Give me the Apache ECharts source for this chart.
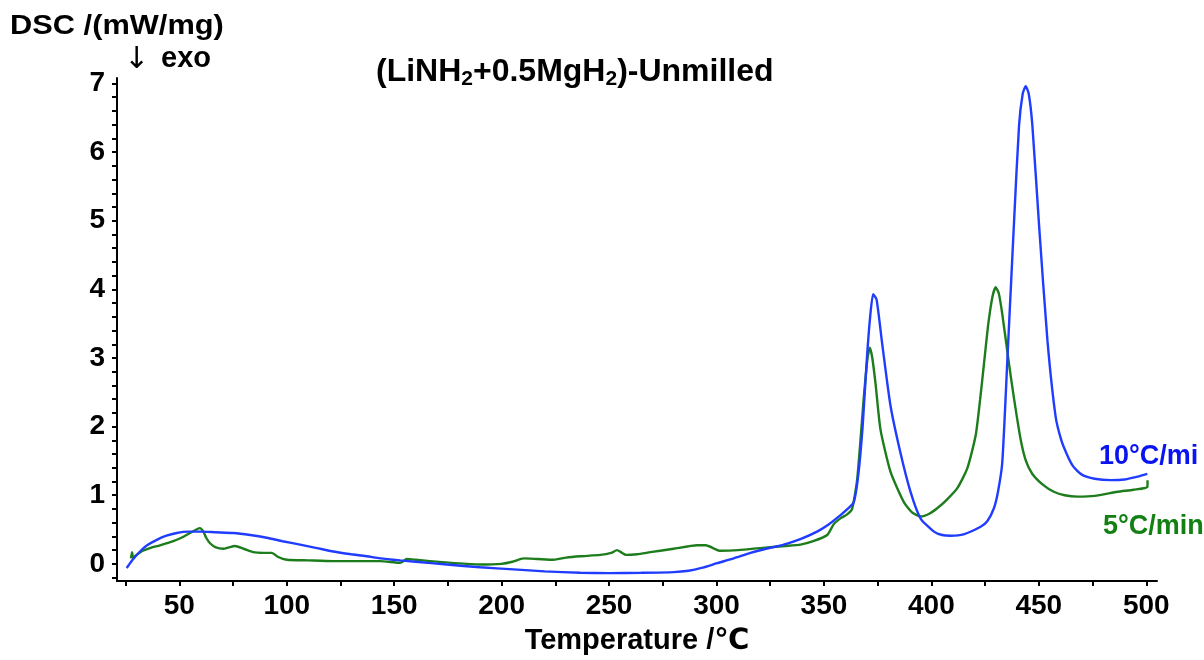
<!DOCTYPE html>
<html>
<head>
<meta charset="utf-8">
<script src="https://cdn.jsdelivr.net/npm/echarts@6/dist/echarts.min.js"></script>
<style>
html,body{margin:0;padding:0;background:#fff;}
#chart{width:1204px;height:660px;}
</style>
</head>
<body>
<div id="chart"></div>
<script>
// ---- Data ----
const seriesNames = ['10°C/min', '5°C/min'];

// 10 °C/min heating rate: [Temperature (°C), DSC (mW/mg)]
const dsc10 = [
  [25.5,-0.06],[28,0.05],[31.7,0.18],[35,0.27],[39.5,0.35],[44,0.41],[48.8,0.45],[54,0.47],
  [59.6,0.47],[67,0.46],[75.1,0.45],[83,0.42],[90.7,0.38],[98,0.33],[106.2,0.28],[114,0.23],
  [121.7,0.18],[130,0.14],[137.3,0.11],[143.5,0.08],[152.8,0.05],[160,0.03],[174.5,-0.01],
  [190,-0.05],[205.5,-0.08],[220,-0.11],[236.6,-0.13],[250,-0.135],[265,-0.13],[280,-0.12],
  [287,-0.1],[293,-0.06],[300.3,0.01],[308,0.08],[315.8,0.16],[323,0.22],[331.3,0.28],
  [339,0.36],[346.8,0.47],[352,0.57],[357.7,0.71],[361,0.8],[363.9,0.9],[366,1.3],[368,2.0],
  [370,3.0],[371.5,3.6],[372.9,3.93],[374.5,3.85],[377.1,3.21],[381,2.3],[385.6,1.62],
  [390.3,1.05],[395,0.66],[401.2,0.47],[405,0.42],[409,0.41],[415,0.43],[422.9,0.54],
  [426,0.62],[429.1,0.81],[431,1.05],[433,1.48],[435.4,3.0],[438.4,4.94],[440.8,6.39],
  [442.5,6.85],[443.9,6.96],[445.3,6.85],[447,6.39],[450.1,4.94],[454,3.26],[457.8,2.15],
  [460.5,1.8],[463.3,1.58],[466,1.42],[470,1.3],[476,1.24],[483.5,1.22],[490,1.23],
  [496,1.27],[500.5,1.31]
];

// 5 °C/min heating rate: [Temperature (°C), DSC (mW/mg)]
const dsc5 = [
  [27.5,0.08],[28,0.17],[28.5,0.09],[30.1,0.13],[33,0.19],[36.3,0.23],[41,0.27],[47.2,0.33],
  [51,0.38],[55,0.45],[58,0.5],[59.6,0.52],[61.2,0.47],[62.5,0.38],[64.3,0.3],[67,0.24],
  [70.5,0.22],[73,0.24],[75.9,0.26],[80,0.22],[84.4,0.17],[89,0.16],[93,0.16],[96,0.1],
  [100,0.06],[110,0.05],[121.7,0.04],[137.3,0.04],[143.5,0.04],[152.8,0.015],[155.9,0.07],
  [160,0.06],[166.7,0.04],[178,0.01],[190,-0.01],[200,0.0],[205,0.03],[210.2,0.08],
  [217,0.07],[224.2,0.06],[230,0.09],[236.6,0.11],[245.9,0.13],[251,0.16],[253.7,0.2],
  [255.5,0.17],[258,0.13],[263,0.14],[269.2,0.17],[280,0.22],[291,0.27],[295,0.27],
  [301.8,0.19],[310,0.2],[323.6,0.24],[332,0.26],[339.1,0.28],[345,0.33],[351.5,0.42],
  [354.6,0.58],[358,0.67],[360.8,0.72],[363.1,0.8],[365.5,1.24],[368.6,2.44],[370.3,3.0],
  [371.4,3.15],[372.5,3.0],[374,2.63],[376.3,1.96],[381,1.34],[387.2,0.9],[391,0.75],
  [395,0.69],[399,0.73],[402.7,0.81],[407,0.93],[412,1.1],[416.7,1.39],[420.6,1.87],
  [422.7,2.4],[424.5,2.92],[426.5,3.5],[428.4,3.89],[429.9,4.03],[431.3,3.95],[433,3.64],
  [436.1,2.92],[438.5,2.4],[441.5,1.82],[444,1.5],[447,1.31],[452,1.15],[457,1.05],
  [462,1.0],[468,0.98],[476,0.99],[486.6,1.05],[494,1.08],[500.5,1.12],[500.6,1.22]
];

// Tick labels / tick positions
const xTickLabels = [50,100,150,200,250,300,350,400,450,500];
const xTicks = [25,50,75,100,125,150,175,200,225,250,275,300,325,350,375,400,425,450,475,500];
const yTickLabels = [0,1,2,3,4,5,6,7];
const yTicks = [-0.2,0,0.2,0.4,0.6,0.8,1,1.2,1.4,1.6,1.8,2,2.2,2.4,2.6,2.8,3,3.2,3.4,3.6,3.8,4,
  4.2,4.4,4.6,4.8,5,5.2,5.4,5.6,5.8,6,6.2,6.4,6.6,6.8,7];

const yName = 'DSC /(mW/mg)';
const xName = 'Temperature /℃';

// ---- Chart ----
const FONT = '"Liberation Sans", Arial, "DejaVu Sans", sans-serif';
const chart = echarts.init(document.getElementById('chart'), null, {renderer: 'canvas'});

const axisCommon = {
  type: 'value',
  axisLine: {show: true, onZero: false, lineStyle: {color: '#000', width: 2}},
  axisTick: {show: true, inside: false, length: 5, lineStyle: {color: '#000', width: 2}},
  splitLine: {show: false},
  axisLabel: {color: '#000', fontWeight: 'bold', fontSize: 28, fontFamily: FONT}
};

chart.setOption({
  backgroundColor: '#fff',
  animation: false,
  grid: {left: 117, right: 47, top: 78, bottom: 75},
  xAxis: Object.assign({}, axisCommon, {
    min: 21, max: 505,
    axisTick: Object.assign({}, axisCommon.axisTick, {customValues: xTicks}),
    axisLabel: Object.assign({}, axisCommon.axisLabel, {customValues: xTickLabels, margin: 11}),
    name: xName, nameLocation: 'middle', nameGap: 45,
    nameTextStyle: {color: '#000', fontWeight: 'bold', fontSize: 29, fontFamily: FONT}
  }),
  yAxis: Object.assign({}, axisCommon, {
    min: -0.25, max: 7.08,
    axisTick: Object.assign({}, axisCommon.axisTick, {customValues: yTicks}),
    axisLabel: Object.assign({}, axisCommon.axisLabel, {customValues: yTickLabels, margin: 12})
  }),
  series: [
    {
      name: seriesNames[0], type: 'line', data: dsc10, showSymbol: false,
      smooth: 0.2,
      lineStyle: {color: '#1f3cff', width: 2.4}, z: 3
    },
    {
      name: seriesNames[1], type: 'line', data: dsc5, showSymbol: false,
      smooth: 0.2,
      lineStyle: {color: '#1d7d1d', width: 2.4}, z: 2
    }
  ],
  graphic: [
    {type: 'text', left: 10, top: 12, scaleX: 1.1, style: {text: yName, fontSize: 28, fontWeight: 'bold', fontFamily: FONT, fill: '#000'}},
    {type: 'text', left: 124, top: 45, style: {text: '↓', fontSize: 30, fontWeight: 'normal', fontFamily: '"DejaVu Sans", sans-serif', fill: '#000'}},
    {type: 'text', left: 161, top: 44, style: {text: 'exo', fontSize: 29, fontWeight: 'bold', fontFamily: FONT, fill: '#000'}},
    {type: 'text', left: 376, top: 56, style: {
      text: '{b|(LiNH}{s|2}{b|+0.5MgH}{s|2}{b|)-Unmilled}',
      rich: {
        b: {fontSize: 32, fontWeight: 'bold', fontFamily: FONT, fill: '#000', color: '#000', lineHeight: 36},
        s: {fontSize: 21, fontWeight: 'bold', fontFamily: FONT, fill: '#000', color: '#000', lineHeight: 20, verticalAlign: 'bottom'}
      }
    }},
    {type: 'text', left: 1099, top: 443, style: {text: '10°C/mi', fontSize: 27, fontWeight: 'bold', fontFamily: FONT, fill: '#0a14f0'}},
    {type: 'text', left: 1103, top: 513, style: {text: '5°C/min', fontSize: 27, fontWeight: 'bold', fontFamily: FONT, fill: '#138013'}}
  ]
});
</script>
</body>
</html>
